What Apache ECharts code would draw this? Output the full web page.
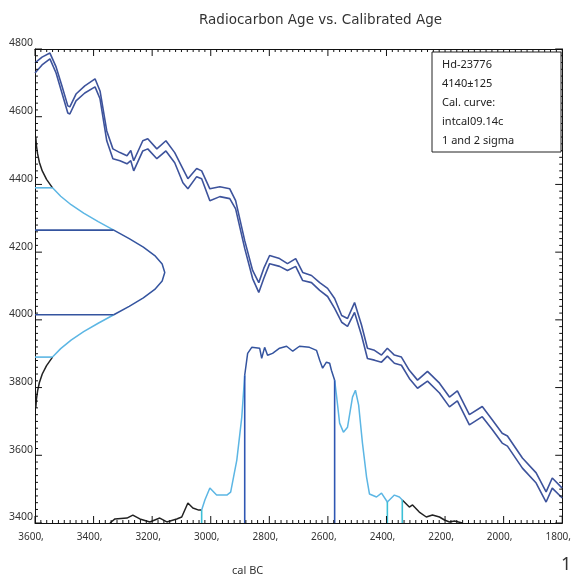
<!DOCTYPE html>
<html><head><meta charset="utf-8">
<script src="https://cdn.jsdelivr.net/npm/echarts@6/dist/echarts.min.js"></script>
<style>html,body{margin:0;padding:0;background:#fff}#c{width:574px;height:583px}</style>
</head><body><div id="c"></div>
<script>
// ---- Calibration curve (cal BC, upper and lower 1-sigma envelope, BP) ----
const calBC = [3600,3576,3549,3528,3508,3488,3481,3460,3430,3395,3378,3355,3334,3310,3286,3273,3263,3232,3215,3184,3153,3123,3095,3078,3048,3031,3003,2969,2935,2915,2884,2857,2836,2819,2799,2765,2738,2710,2686,2656,2628,2601,2577,2553,2533,2509,2485,2465,2441,2417,2397,2373,2349,2322,2294,2260,2219,2185,2158,2117,2073,2039,2005,1987,1936,1889,1855,1834,1800];
const calUpper = [4759,4776,4788,4747,4691,4632,4629,4667,4691,4712,4676,4558,4505,4494,4485,4500,4470,4529,4535,4505,4529,4494,4446,4417,4447,4440,4387,4393,4387,4352,4234,4146,4110,4152,4190,4181,4166,4181,4140,4131,4110,4093,4063,4013,4004,4051,3984,3916,3910,3896,3916,3896,3890,3851,3822,3848,3813,3772,3790,3720,3744,3705,3665,3657,3592,3548,3492,3533,3503];
const calLower = [4729,4753,4771,4729,4670,4611,4608,4647,4670,4688,4653,4529,4476,4470,4461,4470,4440,4499,4505,4476,4499,4464,4405,4387,4423,4417,4352,4364,4358,4328,4211,4122,4081,4122,4166,4158,4146,4158,4116,4110,4087,4069,4034,3993,3981,4022,3954,3886,3881,3875,3893,3872,3866,3827,3798,3819,3784,3743,3761,3690,3714,3676,3636,3627,3562,3518,3462,3503,3474];

// ---- Radiocarbon date distribution (BP age, relative density) ----
const gaussAge = [4540,4515,4490,4465,4440,4415,4390,4365,4340,4315,4290,4265,4240,4215,4190,4165,4140,4115,4090,4065,4040,4015,3990,3965,3940,3915,3890,3865,3840,3815,3790,3765,3740];
const gaussDensity = [0.006,0.011,0.020,0.034,0.056,0.089,0.135,0.198,0.278,0.375,0.487,0.607,0.726,0.835,0.923,0.980,1.000,0.980,0.923,0.835,0.726,0.607,0.487,0.375,0.278,0.198,0.135,0.089,0.056,0.034,0.020,0.011,0.006];

// ---- Calibrated distribution (cal BC, relative probability) ----
const probBC = [3344,3327,3286,3266,3242,3208,3174,3150,3116,3099,3078,3061,3041,3031,3020,3003,2980,2945,2932,2911,2894,2884,2874,2860,2833,2826,2816,2806,2789,2765,2741,2720,2697,2663,2639,2628,2618,2605,2594,2588,2577,2570,2560,2547,2533,2516,2506,2495,2482,2468,2458,2434,2417,2397,2373,2356,2346,2322,2311,2288,2264,2243,2219,2202,2185,2168,2141];
const probRel = [0,0.023,0.028,0.045,0.023,0.006,0.028,0.006,0.023,0.034,0.113,0.085,0.073,0.073,0.13,0.198,0.158,0.158,0.175,0.356,0.599,0.836,0.96,0.994,0.989,0.932,0.994,0.949,0.96,0.989,1.0,0.972,1.0,0.994,0.977,0.921,0.876,0.91,0.904,0.864,0.808,0.712,0.565,0.514,0.542,0.712,0.751,0.667,0.452,0.26,0.164,0.147,0.169,0.119,0.158,0.147,0.13,0.09,0.102,0.062,0.034,0.045,0.034,0.017,0.006,0.011,0];

// ---- Ranges ----
const oneSigmaAge = [4015, 4265];
const twoSigmaAge = [3890, 4390];
const oneSigmaBC = [2884, 2577];
const twoSigmaBC = [3031, 2397, 2346];

const infoLines = ['Hd-23776', '4140\u00b1125', 'Cal. curve:', 'intcal09.14c', '1 and 2 sigma'];
const chartTitle = 'Radiocarbon Age vs. Calibrated Age';
const xName = 'cal BC';
const figNo = '1';

// axis ranges and display scales (layout)
const X_MIN = 1800, X_MAX = 3600, Y_MIN = 3400, Y_MAX = 4800, STEP = 200, MINOR = 20;
const GAUSS_SPAN = 443;   // years of x-axis taken by the density peak
const PROB_SPAN = 522;    // years of y-axis taken by the probability peak

const C_BLACK = '#222222', C_DARK = '#34549f', C_LIGHT = '#5cb6e4', C_CYAN = '#3cbfd6', C_CURVE = '#3d539c';
const FONT = 'Noto Sans';
const W = 574, H = 583;
const GRID = { left: 35, right: 11, top: 49, bottom: 60 };
// data units per pixel (for tick lengths)
const DX = (X_MAX - X_MIN) / (W - GRID.left - GRID.right);
const DY = (Y_MAX - Y_MIN) / (H - GRID.top - GRID.bottom);

const gaussPts = gaussAge.map((a, i) => [X_MAX - gaussDensity[i] * GAUSS_SPAN, a]);
const probPts = probBC.map((x, i) => [x, Y_MIN + probRel[i] * PROB_SPAN]);

function byY(pts, lo, hi) { return pts.filter(p => p[1] >= lo && p[1] <= hi); }
function byX(pts, lo, hi) { return pts.filter(p => p[0] >= lo && p[0] <= hi); }
function line(data, color, width, z) {
  return { type: 'line', data: data, showSymbol: false, symbol: 'none', silent: true,
    xAxisIndex: 0, yAxisIndex: 0, clip: false,
    lineStyle: { color: color, width: width || 1.5 }, z: z || 2, animation: false };
}
function gaussAt(age) { const i = gaussAge.indexOf(age); return X_MAX - gaussDensity[i] * GAUSS_SPAN; }
function probAt(x) { const i = probBC.indexOf(x); return Y_MIN + probRel[i] * PROB_SPAN; }

const series = [];
series.push(line(calBC.map((x, i) => [x, calUpper[i]]), C_CURVE, 1.6, 3));
series.push(line(calBC.map((x, i) => [x, calLower[i]]), C_CURVE, 1.6, 3));
series.push(line(byY(gaussPts, twoSigmaAge[1], 99999), C_BLACK));
series.push(line(byY(gaussPts, oneSigmaAge[1], twoSigmaAge[1]), C_LIGHT));
series.push(line(byY(gaussPts, oneSigmaAge[0], oneSigmaAge[1]), C_DARK));
series.push(line(byY(gaussPts, twoSigmaAge[0], oneSigmaAge[0]), C_LIGHT));
series.push(line(byY(gaussPts, 0, twoSigmaAge[0]), C_BLACK));
oneSigmaAge.forEach(a => series.push(line([[X_MAX, a], [gaussAt(a), a]], C_DARK, 1.6)));
twoSigmaAge.forEach(a => series.push(line([[X_MAX, a], [gaussAt(a), a]], C_LIGHT, 1.6)));
series.push(line(byX(probPts, twoSigmaBC[0], 99999), C_BLACK));
series.push(line(byX(probPts, oneSigmaBC[0], twoSigmaBC[0]), C_LIGHT));
series.push(line(byX(probPts, oneSigmaBC[1], oneSigmaBC[0]), C_DARK));
series.push(line(byX(probPts, twoSigmaBC[2], oneSigmaBC[1]), C_LIGHT));
series.push(line(byX(probPts, 0, twoSigmaBC[2]), C_BLACK));
oneSigmaBC.forEach(x => series.push(line([[x, Y_MIN], [x, probAt(x)]], '#2f56b3', 1.6)));
twoSigmaBC.forEach(x => series.push(line([[x, Y_MIN], [x, probAt(x)]], C_CYAN, 1.6)));

// frame ticks (inside, all four sides) as short line segments on the axes' scales
for (let v = X_MIN; v <= X_MAX; v += MINOR) {
  const len = ((v % STEP === 0) ? 7 : 3) * DY;
  series.push(line([[v, Y_MIN], [v, Y_MIN + len]], '#111', 1, 6));
  series.push(line([[v, Y_MAX], [v, Y_MAX - len]], '#111', 1, 6));
}
for (let v = Y_MIN; v <= Y_MAX; v += MINOR) {
  const len = ((v % STEP === 0) ? 7 : 3) * DX;
  series.push(line([[X_MAX, v], [X_MAX - len, v]], '#111', 1, 6));
  series.push(line([[X_MIN, v], [X_MIN + len, v]], '#111', 1, 6));
}

function makeAxis(isX, position, showLabel) {
  const ax = {
    type: 'value', position: position,
    min: isX ? X_MIN : Y_MIN, max: isX ? X_MAX : Y_MAX, interval: STEP, inverse: isX,
    axisLine: { show: true, onZero: false, lineStyle: { color: '#111', width: 1 } },
    axisTick: { show: false },
    minorTick: { show: false },
    splitLine: { show: false }, minorSplitLine: { show: false },
    axisLabel: { show: false }
  };
  if (showLabel && isX) {
    ax.axisLabel = { show: true, margin: 9, fontFamily: FONT, fontSize: 10, color: '#333', padding: [0, 8, 0, 0],
      formatter: v => String(v) + ',' };
  } else if (showLabel) {
    ax.axisLabel = { show: true, margin: 2, fontFamily: FONT, fontSize: 10.5, color: '#333', verticalAlign: 'bottom',
      formatter: v => String(v) };
  }
  return ax;
}

const chart = echarts.init(document.getElementById('c'), null, { renderer: 'canvas' });
chart.setOption({
  backgroundColor: '#fff',
  animation: false,
  title: { text: chartTitle, left: 194, top: 8, textStyle: { fontFamily: 'DejaVu Sans', fontSize: 13.5, fontWeight: 'normal', color: '#333' } },
  grid: GRID,
  xAxis: [makeAxis(true, 'bottom', true), makeAxis(true, 'top', false)],
  yAxis: [makeAxis(false, 'left', true), makeAxis(false, 'right', false)],
  graphic: [
    { type: 'rect', shape: { x: 432, y: 52, width: 129, height: 100 }, style: { fill: '#fff', stroke: '#222', lineWidth: 1 }, z: 10 },
    ...infoLines.map((t, i) => ({ type: 'text', x: 442, y: 59 + i * 19.2, z: 11,
      style: { text: t, font: '11px "' + FONT + '"', fill: '#222' } })),
    { type: 'text', x: 232, y: 565, style: { text: xName, font: '11px "' + FONT + '"', fill: '#333' } },
    { type: 'text', x: 561, y: 556, style: { text: figNo, font: '18px "' + FONT + '"', fill: '#333' } }
  ],
  series: series
});
</script>
</body></html>
